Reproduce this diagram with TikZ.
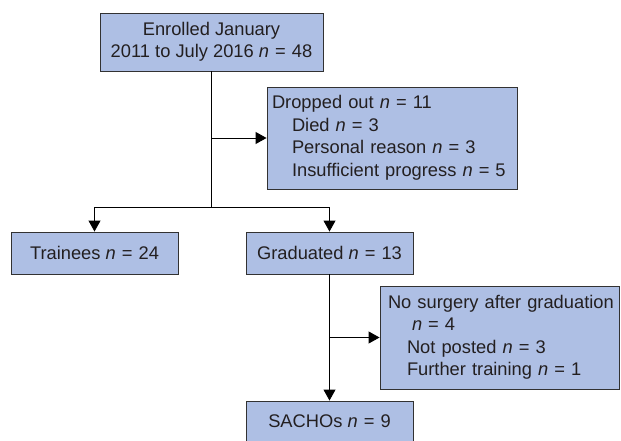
\documentclass[tikz,border=0pt]{standalone}
\usepackage{fontspec}
\setmainfont{Liberation Sans}
\usetikzlibrary{arrows.meta}
\definecolor{boxfill}{RGB}{174,191,228}
\definecolor{boxline}{RGB}{50,50,50}
\definecolor{txt}{RGB}{35,31,32}
\newcommand{\ncnt}[1]{\textit{n}\hspace{0.33em}=\hspace{0.33em}#1}
\begin{document}
\begin{tikzpicture}[x=1pt,y=-1pt,
  box/.style={draw=boxline, fill=boxfill, line width=0.9pt, text=txt,
    font=\fontsize{18.3}{22.5}\selectfont, inner sep=0pt},
  lbox/.style={box, align=left, inner xsep=#1},
  conn/.style={draw=black, line width=0.9pt},
  arr/.style={conn, -{Triangle[length=11pt,width=12pt]}}]
\useasboundingbox (0,0) rectangle (621,441);

\node[box, minimum width=223, minimum height=58, align=center] (top) at (211.5,42)
  {Enrolled January\\2011 to July 2016 \ncnt{48}};
\node[lbox=5pt, text width=240, minimum height=102] (drop) at (392,138)
  {Dropped out \ncnt{11}\\
   \hspace*{20pt}Died \ncnt{3}\\
   \hspace*{20pt}Personal reason \ncnt{3}\\
   \hspace*{20pt}Insufficient progress \ncnt{5}};
\node[box, minimum width=167, minimum height=42] (train) at (94.5,253) {Trainees \ncnt{24}};
\node[box, minimum width=167, minimum height=42] (grad) at (329.5,253) {Graduated \ncnt{13}};
\node[lbox=8pt, text width=223, minimum height=103] (nosurg) at (499.5,337.5)
  {\mbox{No surgery after graduation}\\
   \hspace*{24pt}\ncnt{4}\\
   \hspace*{19pt}Not posted \ncnt{3}\\
   \hspace*{19pt}Further training \ncnt{1}};
\node[box, minimum width=167, minimum height=40] (sacho) at (329.5,421) {SACHOs \ncnt{9}};

\coordinate (j1) at (211.5,207);
\draw[conn] (top.south) -- (j1);
\draw[arr] (top.south |- drop.west) -- (drop.west);
\draw[arr] (j1) -| (train.north);
\draw[arr] (j1) -| (grad.north);
\draw[arr] (grad.south) -- (sacho.north);
\draw[arr] (grad.south |- nosurg.west) -- (nosurg.west);
\end{tikzpicture}
\end{document}
